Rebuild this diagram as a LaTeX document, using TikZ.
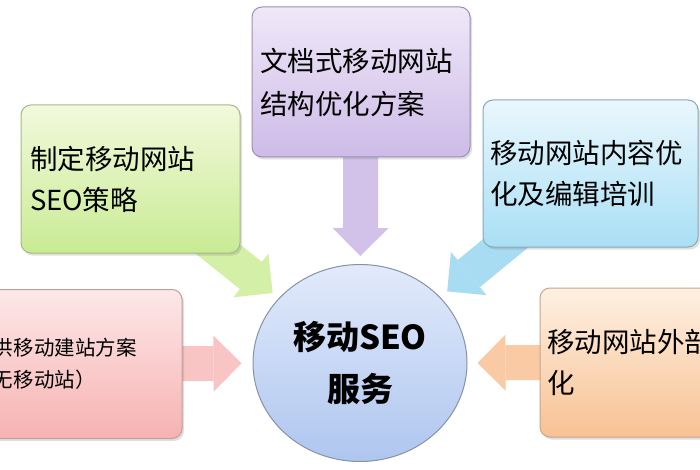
\documentclass[tikz,border=0pt]{standalone}
\usepackage{fontspec}
\setmainfont{Noto Sans CJK SC}
\usetikzlibrary{shapes.geometric,shadows,arrows.meta}
\pgfdeclarelayer{background}
\pgfsetlayers{background,main}
\definecolor{puA}{HTML}{EFE8F8}\definecolor{puB}{HTML}{CDBBE7}\definecolor{puL}{HTML}{9D8FB3}\definecolor{puR}{HTML}{D2C2EA}
\definecolor{grA}{HTML}{F2F9DC}\definecolor{grB}{HTML}{C9EB94}\definecolor{grL}{HTML}{A5B98A}\definecolor{grR}{HTML}{D4F0A6}
\definecolor{blA}{HTML}{EAF7FD}\definecolor{blB}{HTML}{A9DFF5}\definecolor{blL}{HTML}{86A9B8}\definecolor{blR}{HTML}{A8DCF2}
\definecolor{piA}{HTML}{FDE8E8}\definecolor{piB}{HTML}{F7B2B2}\definecolor{piL}{HTML}{C99B9B}\definecolor{piR}{HTML}{F8C4C4}
\definecolor{orA}{HTML}{FEF0E2}\definecolor{orB}{HTML}{F8C294}\definecolor{orL}{HTML}{C9A58A}\definecolor{orR}{HTML}{F9CAA4}
\definecolor{ciA}{HTML}{E2EAFB}\definecolor{ciB}{HTML}{AEC6EF}\definecolor{ciL}{HTML}{8792A8}
\begin{document}
\begin{tikzpicture}[x=1pt,y=-1pt,
  tbox/.style={rectangle, rounded corners=10pt, line width=1pt, align=left,
    inner ysep=0pt, drop shadow={shadow xshift=2pt, shadow yshift=-2.5pt, opacity=0.25},
    font=\fontsize{27.5}{41}\selectfont},
  blockarrow/.style={line width=35pt, -{Triangle[width=56pt,length=28pt,line width=0pt]}}]
\useasboundingbox (0,0) rectangle (700,470);
\begin{pgfonlayer}{background}
\fill[white] (0,0) rectangle (700,470);
\end{pgfonlayer}
\clip (0,0) rectangle (700,470);
% boxes
\node[tbox, top color=puA, bottom color=puB, draw=puL, minimum width=218pt, minimum height=150pt,
  text width=202pt, inner xsep=8pt, font=\fontsize{27.5}{43}\selectfont] (pu) at (361,82) {文档式移动网站\\结构优化方案};
\node[tbox, top color=grA, bottom color=grB, draw=grL, minimum width=219pt, minimum height=148pt,
  text width=201pt, inner xsep=9pt] (gr) at (130.5,179) {制定移动网站\\SEO策略};
\node[tbox, top color=blA, bottom color=blB, draw=blL, minimum width=215pt, minimum height=147pt,
  text width=201pt, inner xsep=7pt] (bl) at (590.5,173.5) {移动网站内容优\\化及编辑培训};
\node[tbox, top color=piA, bottom color=piB, draw=piL, minimum width=222pt, minimum height=149pt,
  text width=156pt, inner xsep=33pt, font=\fontsize{20.5}{32}\selectfont] (pi) at (71,364) {供移动建站方案\\无移动站）};
\node[tbox, top color=orA, bottom color=orB, draw=orL, minimum width=220pt, minimum height=149pt,
  text width=206pt, inner xsep=7pt] (or) at (650,362.5) {移动网站外部\\化};
% centre
\node[ellipse, draw=ciL, line width=1pt, top color=ciA, bottom color=ciB,
  minimum width=214pt, minimum height=197pt, align=center, inner sep=0pt,
  font=\bfseries\fontsize{33}{52}\selectfont] (c) at (360,363) {移动SEO\\服务};
% arrows behind
\begin{pgfonlayer}{background}
\draw[blockarrow, draw=puR, fill=puR, shorten >=8pt] (pu.center) -- (c);
\draw[blockarrow, draw=grR, fill=grR, shorten >=8pt] (gr.center) -- (c);
\draw[blockarrow, draw=blR, fill=blR, shorten >=9pt] (bl.center) -- (c);
\draw[blockarrow, draw=piR, fill=piR, shorten >=11pt] (pi.center) -- (c);
\draw[blockarrow, draw=orR, fill=orR, shorten >=10pt] (or.center) -- (c);
\end{pgfonlayer}
\end{tikzpicture}
\end{document}
